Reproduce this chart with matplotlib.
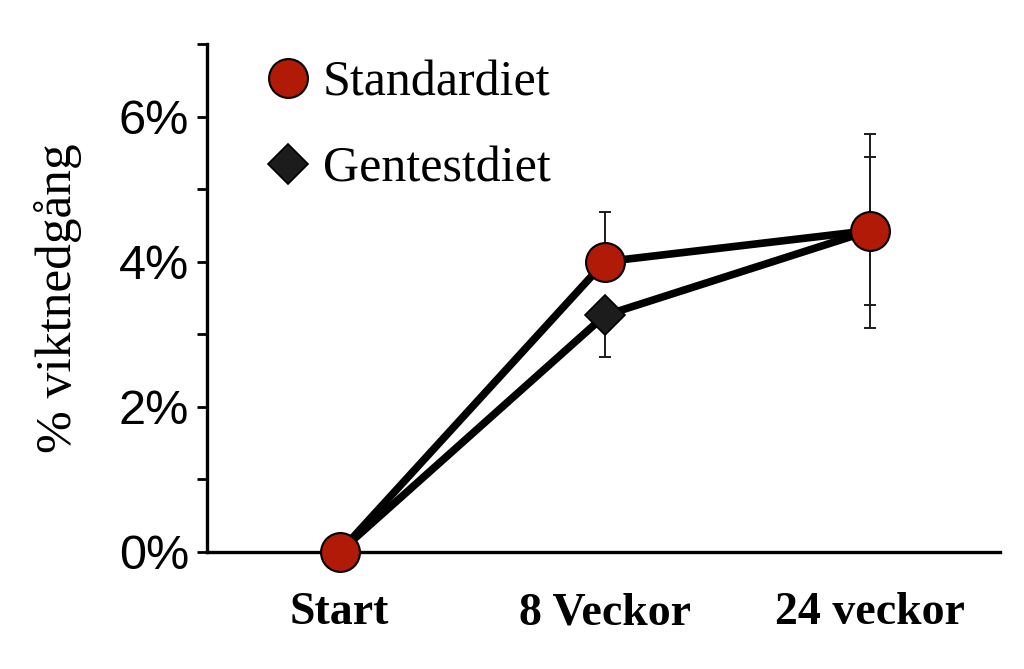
"""Weight loss comparison: standard diet vs gene-test diet."""

import matplotlib
matplotlib.use("Agg")
import matplotlib.pyplot as plt
from matplotlib.lines import Line2D

timepoints = ["Start", "8 Veckor", "24 veckor"]
standard = [0.0, 4.0, 4.43]
standard_err_low = [0.0, 0.0, 1.03]
standard_err_high = [0.0, 0.68, 1.01]
gentest = [0.0, 3.26, 4.43]
gentest_err_low = [0.0, 0.57, 1.35]
gentest_err_high = [0.0, 0.0, 1.33]
yticks = [0, 2, 4, 6]

RED = "#b01a06"
DARK = "#1c1c1c"
SERIF = ["Liberation Serif", "DejaVu Serif"]
SANS = ["Liberation Sans", "DejaVu Sans"]

fig = plt.figure(figsize=(10.24, 6.69), dpi=100)
ax = fig.add_axes([0.2021, 0.1749, 0.7745, 0.7593])
x = list(range(len(timepoints)))

# error bars first, thin
ax.errorbar(x, gentest, yerr=[gentest_err_low, gentest_err_high], fmt="none",
            ecolor=DARK, elinewidth=1.4, capsize=4.5, capthick=1.4, zorder=1)
ax.errorbar(x, standard, yerr=[standard_err_low, standard_err_high], fmt="none",
            ecolor=DARK, elinewidth=1.4, capsize=4.5, capthick=1.4, zorder=1)

ax.plot(x, gentest, color="black", lw=5.5, zorder=2, clip_on=False)
ax.plot(x, standard, color="black", lw=5.5, zorder=2, clip_on=False)
ax.plot(x[1:], gentest[1:], ls="none", marker="D", ms=20, mfc=DARK, mec="black",
        mew=1.2, zorder=3)
ax.plot(x, standard, ls="none", marker="o", ms=28, mfc=RED, mec="black", mew=1.5,
        zorder=4, clip_on=False)

ax.set_xlim(-0.5, 2.49)
ax.set_ylim(0, 7)
ax.set_yticks(range(0, 8))
ax.set_yticklabels([f"{v}%" if v in yticks else "" for v in range(0, 8)],
                   fontsize=35, family=SANS)
ax.set_xticks(x)
ax.set_xticklabels(timepoints, fontsize=33, family=SERIF, fontweight="bold")
ax.tick_params(axis="x", length=0, pad=29)
ax.tick_params(axis="y", length=7, width=2, direction="out", pad=6)
for side in ("top", "right"):
    ax.spines[side].set_visible(False)
for side in ("left", "bottom"):
    ax.spines[side].set_linewidth(2.4)
ax.set_ylabel("% viktnedgång", fontsize=37, family=SERIF, labelpad=26)

handles = [
    Line2D([], [], ls="none", marker="o", ms=28, mfc=RED, mec="black", mew=1.5),
    Line2D([], [], ls="none", marker="D", ms=20, mfc=DARK, mec="black", mew=1.2),
]
ax.legend(handles, ["Standardiet", "Gentestdiet"], loc="upper left",
          bbox_to_anchor=(0.014, 1.058), frameon=False, handlelength=1.0,
          handletextpad=0.2, labelspacing=0.8,
          prop={"family": SERIF, "size": 36})

fig.savefig("out.png", dpi=100)
